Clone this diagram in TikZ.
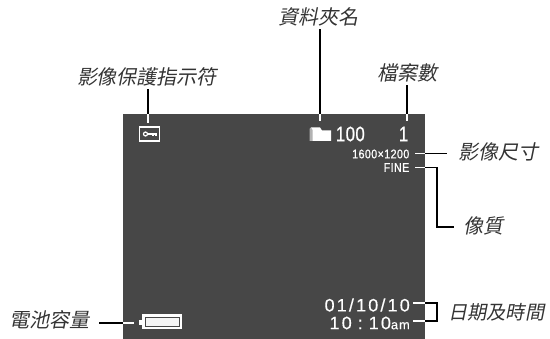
\documentclass[tikz,border=0pt]{standalone}
\usepackage{fontspec}
\newfontfamily\cjk[FakeSlant=0.2]{Noto Sans CJK TC}
\newfontfamily\lcd[LetterSpace=12,FakeBold=0.4]{Liberation Sans}
\newfontfamily\lcdam[LetterSpace=6,FakeBold=0.3]{Liberation Sans}
\newfontfamily\lcdn[FakeStretch=0.8,FakeBold=0.8,LetterSpace=2]{Liberation Sans}
\newfontfamily\lcds[FakeStretch=0.86,LetterSpace=3,FakeBold=0.8]{Liberation Sans}
\begin{document}
\begin{tikzpicture}[x=1pt,y=-1pt,
  lbl/.style={inner sep=0pt,font=\fontsize{20}{20}\cjk,text=black!80},
  lcdt/.style={inner sep=0pt,text=white,anchor=east},
  blk/.style={draw=black,line width=1.3pt},
  wht/.style={draw=white,line width=1.8pt}]
\useasboundingbox (0,0) rectangle (550,339);
\node[fill=black!72,draw=none,minimum width=302pt,minimum height=225pt,inner sep=0pt,anchor=north west] (screen) at (123,114) {};
% labels
\node[lbl] (lfolder) at (318.5,17) {資料夾名};
\node[lbl] (lprotect) at (147,77) {影像保護指示符};
\node[lbl] (lcount) at (407,73) {檔案數};
\node[lbl,anchor=west] (lsize) at (458,152) {影像尺寸};
\node[lbl,anchor=west] (lqual) at (463,226) {像質};
\node[lbl,anchor=west,font=\fontsize{19.2}{20}\cjk] (ldate) at (448,312) {日期及時間};
\node[lbl,anchor=east] (lbatt) at (90,320) {電池容量};
% key icon
\node[draw=white,line width=1.3pt,fill=black!72,minimum width=20pt,minimum height=14pt,inner sep=0pt] (key) at (149.5,134) {};
\draw[white,line width=1.2pt] (145.5,134) circle (2pt);
\draw[white,line width=1.6pt] (147.5,134) -- (156.5,134) (153,134) -- (153,136.5) (156,134) -- (156,136.5);
% folder icon
\fill[white] (311,141) -- (311,127.5) -- (320,127.5) -- (322,130.5) -- (331,130.5) -- (331,141) -- cycle;
\fill[black!30] (309.5,141) -- (309.5,129) -- (311,127.5) -- (312.5,130) -- (312.5,141) -- cycle;
\coordinate (folder) at (320,127);
% texts
\node[lcdt,font=\fontsize{21}{21}\lcdn] (n100) at (365,134) {100};
\node[lcdt,font=\fontsize{21}{21}\lcdn] (ncount) at (408.5,134) {1};
\node[lcdt,font=\fontsize{12.5}{12}\lcds] (size) at (409.5,154) {1600×1200};
\node[lcdt,font=\fontsize{12.5}{12}\lcds] (fine) at (409.5,167.5) {FINE};
\node[lcdt,font=\fontsize{18}{18}\lcd] (date) at (410,305) {01/10/10};
\node[lcdt] (time) at (410,323) {\fontsize{18}{18}\lcd 10\,\,:\,\,10\fontsize{13}{13}\lcdam am};
% battery
\node[fill=white,minimum width=40pt,minimum height=15pt,inner sep=0pt] (batt) at (162,321.5) {};
\node[draw=black!72,line width=1pt,fill=black!4,minimum width=34pt,minimum height=9.5pt,inner sep=0pt] (cell) at (162,322) {};
\fill[white] (139,320) rectangle (142,325);
% connectors
\coordinate (pk) at (148,123);
\coordinate (pf) at (320,121);
\coordinate (pc) at (407,121);
\draw[blk] (lprotect.south -| pk) ++(0,3) -- (screen.north -| pk);
\draw[wht] (screen.north -| pk) -- (pk);
\draw[blk] (lfolder.south -| pf) ++(0,3) -- (screen.north -| pf);
\draw[wht] (screen.north -| pf) -- (pf);
\draw[blk] (lcount.south -| pc) ++(0,3) -- (screen.north -| pc);
\draw[wht] (screen.north -| pc) -- (pc);
\coordinate (ps) at (415,153.5);
\coordinate (pq) at (415,167.5);
\coordinate (pd) at (413,303);
\coordinate (pt) at (413,321);
\coordinate (pb) at (134,323);
\coordinate (bend) at (437,167.5);
\coordinate (bend2) at (437,227);
\coordinate (dv) at (437,303);
\coordinate (dw) at (437,321);
\draw[wht] (ps) -- (ps -| screen.east);
\draw[blk] (ps -| screen.east) -- (447,153.5);
\draw[wht] (pq) -- (pq -| screen.east);
\draw[blk] (pq -| screen.east) -- (bend) -- (bend2) -- (454,227);
\draw[wht] (pd) -- (pd -| screen.east);
\draw[wht] (pt) -- (pt -| screen.east);
\draw[blk] (pd -| screen.east) -- (dv) -- (dw) -- (pt -| screen.east);
\draw[blk] (99,323) -- (pb -| screen.west);
\draw[wht] (pb -| screen.west) -- (pb);
\end{tikzpicture}
\end{document}
